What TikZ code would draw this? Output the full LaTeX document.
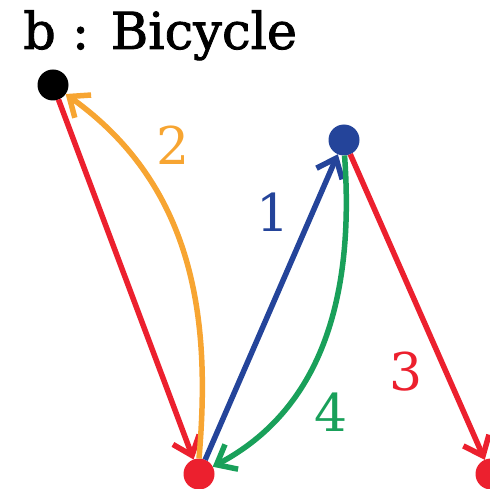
\documentclass[tikz,border=0pt]{standalone}
\usepackage{fontspec}
\setmainfont{DejaVu Serif}
\newfontfamily\titlefont[FakeBold=1.6]{DejaVu Serif}
\usetikzlibrary{arrows.meta}
\definecolor{cred}{RGB}{236,32,46}
\definecolor{corange}{RGB}{247,165,50}
\definecolor{cblue}{RGB}{36,68,154}
\definecolor{cgreen}{RGB}{25,160,90}
\begin{document}
\begin{tikzpicture}[x=1pt,y=-1pt,
  dot/.style={circle,fill=#1,inner sep=0pt,minimum size=31pt,outer sep=0pt},
  edge/.style={draw=#1,line width=5.5pt,-{Straight Barb[length=17pt,width=28pt]}},
  lab/.style={text=#1,font=\fontsize{52}{52}\selectfont,inner sep=0pt}]
\useasboundingbox (0,0) rectangle (490,489);
\node[anchor=base west,inner sep=0pt,font=\titlefont\fontsize{51}{51}\selectfont] (title) at (23,49) {b : Bicycle};
\node[dot=black] (b) at (53,85) {};
\node[dot=cblue] (u) at (344,140) {};
\node[dot=cred] (r) at (199,474) {};
\node[dot=cred] (q) at (491,474) {};
\draw[edge=cred] (b) -- (r);
\draw[edge=cred] (u) -- (q);
\draw[edge=cblue] (r) -- (u);
\draw[edge=corange] (r.90) .. controls (210,330) and (200,190) .. (b);
\draw[edge=cgreen] (u.-88) .. controls (355,300) and (320,410) .. (r);
\node[lab=corange] (l2) at (173,145) {2};
\node[lab=cblue] (l1) at (273,212) {1};
\node[lab=cred] (l3) at (406,372) {3};
\node[lab=cgreen] (l4) at (331,412) {4};
\end{tikzpicture}
\end{document}
